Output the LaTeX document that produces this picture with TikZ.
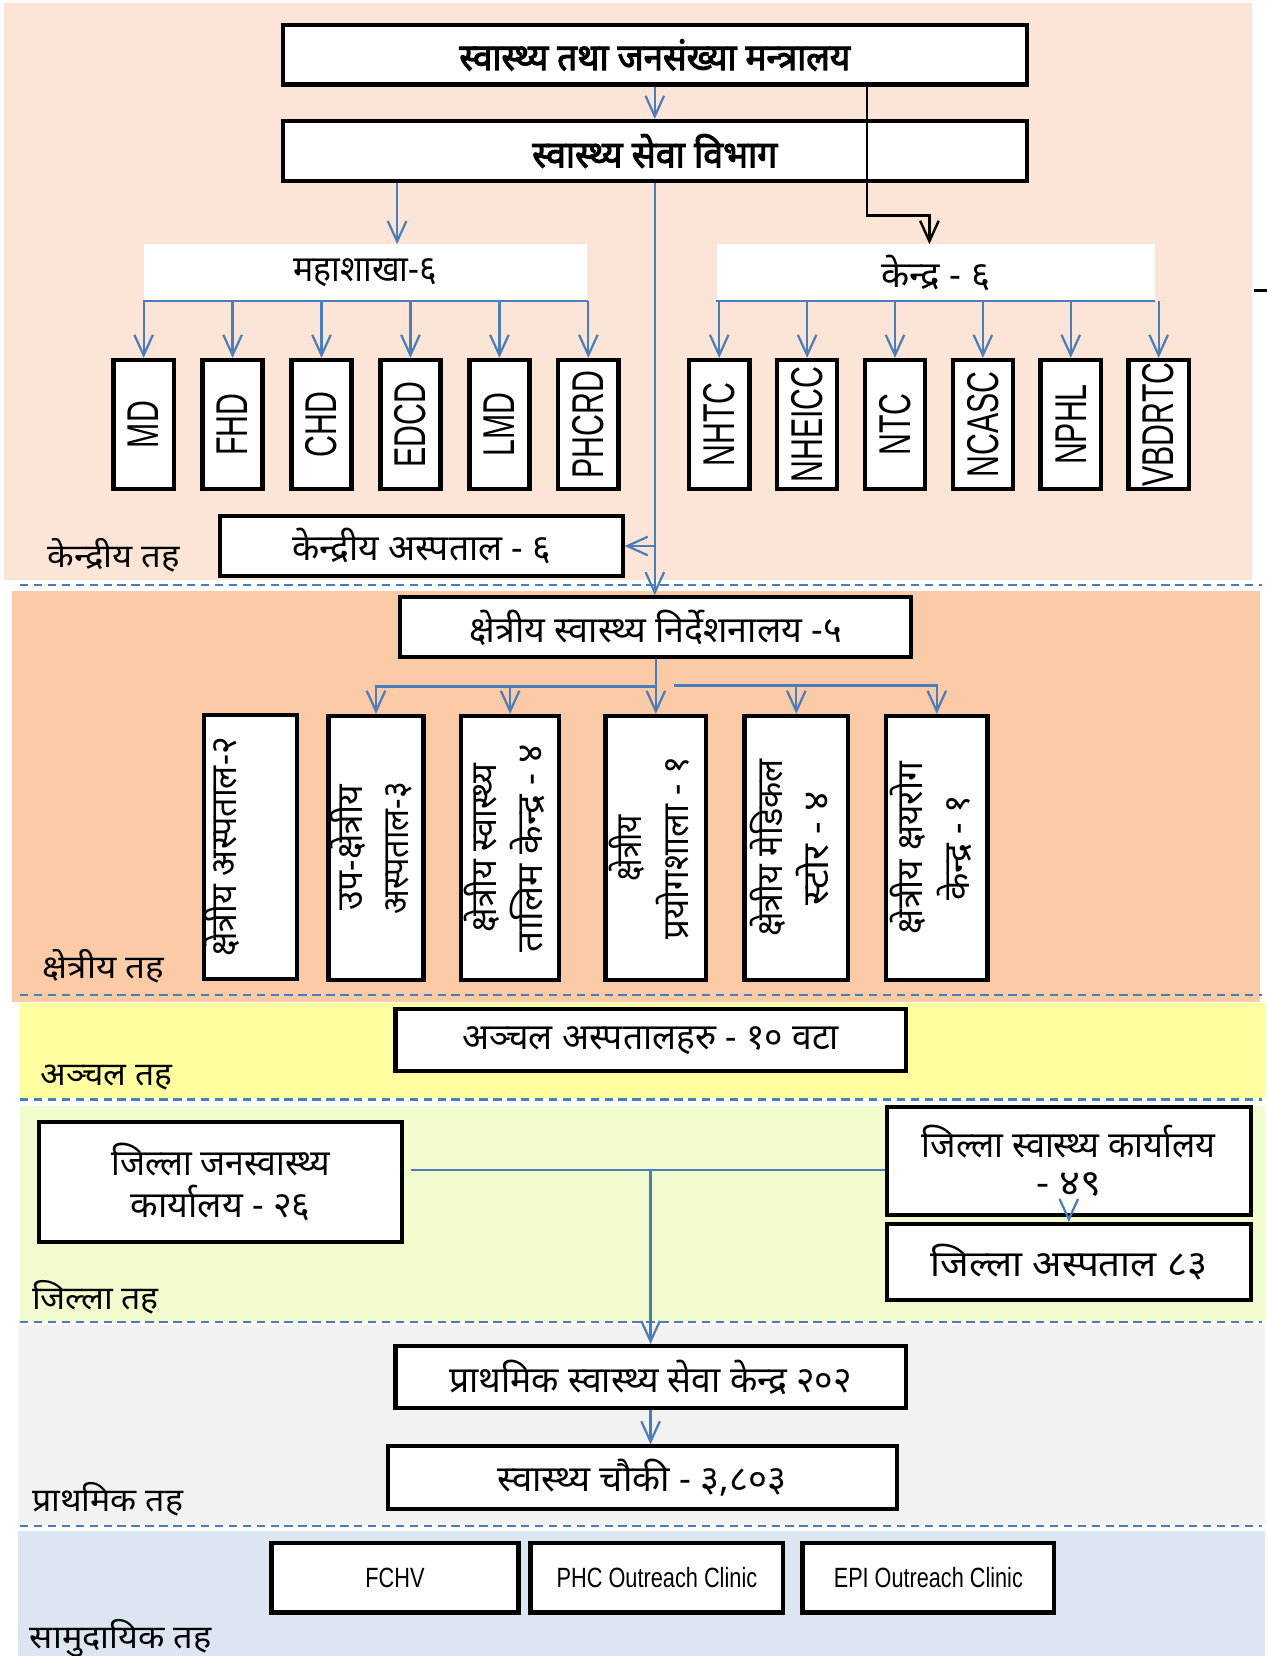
\documentclass[tikz,border=0pt]{standalone}
\usepackage{graphicx}
\usepackage{fontspec}
\setmainfont[Script=Devanagari]{Noto Sans}
\newfontfamily\headfont[Script=Devanagari, FakeBold=3]{Noto Sans}
\newfontfamily\arial{Liberation Sans}
\usetikzlibrary{arrows.meta,positioning}

\definecolor{tierA}{HTML}{FCE5D6}
\definecolor{tierB}{HTML}{FBCBA7}
\definecolor{tierC}{HTML}{FFFF9F}
\definecolor{tierD}{HTML}{F0FBCE}
\definecolor{tierE}{HTML}{F2F2F2}
\definecolor{tierF}{HTML}{DCE6F2}
\definecolor{linkblue}{HTML}{4A7EBB}

\newlength\pxu
\setlength\pxu{0.02cm}
% squeeze a text to a given width (in px), keeping its height
\newcommand\fitx[2]{\resizebox{#1\pxu}{\height}{#2}}
% upright text in a tall box
\newcommand\vtext[1]{\rotatebox{90}{\scalebox{0.68}[1]{#1}}}
\newcommand\vstack[2]{\rotatebox{90}{\begin{tabular}{@{}c@{}}#1\\#2\end{tabular}}}

\tikzset{
    box/.style={draw=black, line width=2.2pt, fill=white, inner sep=0pt,
        font=\fontsize{19.5}{23}\selectfont},
    head/.style={box, font=\headfont\fontsize{20}{23}\selectfont},
    tag/.style={fill=white, inner sep=0pt, font=\fontsize{19.5}{22}\selectfont},
    unit/.style={box, line width=2.4pt, minimum width=57\pxu, minimum height=122\pxu,
        font=\arial\fontsize{24}{24}\selectfont},
    post/.style={box, line width=2.4pt, minimum height=250\pxu,
        font=\fontsize{19.5}{25}\selectfont},
    clinic/.style={box, line width=2.4pt, minimum height=66\pxu,
        font=\arial\fontsize{15}{16}\selectfont},
    lvl/.style={anchor=west, inner sep=0pt, font=\fontsize{17.5}{20}\selectfont},
    link/.style={draw=linkblue, line width=1.2pt},
    arr/.style={link, -{Straight Barb[length=11pt,width=10pt]}},
    blk/.style={draw=black, line width=1.3pt, -{Straight Barb[length=11pt,width=10pt]}},
    tier/.style={draw=linkblue, line width=1.2pt, dash pattern=on 4.5pt off 3pt},
}

\begin{document}
\begin{tikzpicture}[x=0.02cm, y=-0.02cm]
    \useasboundingbox (0,0) rectangle (1200,1568);

    % tiers
    \fill[tierA] (4,3) rectangle (1185,549);
    \fill[tierB] (11,560) rectangle (1193,949);
    \fill[tierC] (19,950) rectangle (1198,1040);
    \fill[tierD] (19,1047) rectangle (1198,1251);
    \fill[tierE] (17,1255) rectangle (1198,1444);
    \fill[tierF] (17,1450) rectangle (1198,1568);
    \foreach \y in {554,942,1041,1252,1445}
        \draw[tier] (19,\y) -- (1195,\y);
    \draw[black, line width=2pt] (1187,275) -- (1200,275);

    \node[lvl] (Lcen) at (45,526) {\fitx{125}{केन्द्रीय तह}};
    \node[lvl] (Lreg) at (40,915) {\fitx{115}{क्षेत्रीय तह}};
    \node[lvl] (Lzon) at (38,1020) {\fitx{125}{अञ्चल तह}};
    \node[lvl] (Ldis) at (30,1228) {\fitx{120}{जिल्ला तह}};
    \node[lvl] (Lpri) at (30,1420) {\fitx{143}{प्राथमिक तह}};
    \node[lvl] (Lcom) at (28,1551) {\fitx{172}{सामुदायिक तह}};

    % central
    \node[head, minimum width=704\pxu, minimum height=56\pxu] (moh) at (620,52)
        {\fitx{370}{स्वास्थ्य तथा जनसंख्या मन्त्रालय}};
    \node[head, minimum width=704\pxu, minimum height=57\pxu] (dohs) at (620,143)
        {\fitx{232}{स्वास्थ्य सेवा विभाग}};
    \node[tag, minimum width=420\pxu, minimum height=53\pxu] (maha) at (346,258)
        {\fitx{136}{महाशाखा-६}};
    \node[tag, minimum width=415\pxu, minimum height=53\pxu] (kendra) at (886,258)
        {\fitx{103}{केन्द्र - ६}};

    \node[unit] (md) at (136,402) {\vtext{MD}};
    \node[unit] (fhd) [right=23\pxu of md] {\vtext{FHD}};
    \node[unit] (chd) [right=23\pxu of fhd] {\vtext{CHD}};
    \node[unit] (edcd) [right=23\pxu of chd] {\vtext{EDCD}};
    \node[unit] (lmd) [right=23\pxu of edcd] {\vtext{LMD}};
    \node[unit] (phcrd) [right=23\pxu of lmd] {\vtext{PHCRD}};

    \node[unit] (nhtc) at (681,402) {\vtext{NHTC}};
    \node[unit] (nheicc) [right=22\pxu of nhtc] {\vtext{NHEICC}};
    \node[unit] (ntc) [right=22\pxu of nheicc] {\vtext{NTC}};
    \node[unit] (ncasc) [right=22\pxu of ntc] {\vtext{NCASC}};
    \node[unit] (nphl) [right=22\pxu of ncasc] {\vtext{NPHL}};
    \node[unit] (vbdrtc) [right=22\pxu of nphl] {\vtext{VBDRTC}};

    \node[box, minimum width=381\pxu, minimum height=57\pxu] (ch) at (399,517)
        {\fitx{245}{केन्द्रीय अस्पताल - ६}};

    % regional
    \node[box, minimum width=484\pxu, minimum height=57\pxu] (rd) at (621,594)
        {\fitx{352}{क्षेत्रीय स्वास्थ्य निर्देशनालय -५}};
    \node[post, minimum width=88\pxu] (rh) at (237,802)
        {\vstack{\fitx{208}{क्षेत्रीय अस्पताल-२}}{\mbox{}}};
    \node[post, minimum width=90\pxu] (srh) at (356,803)
        {\vstack{\fitx{119}{उप-क्षेत्रीय}}{\fitx{125}{अस्पताल-३}}};
    \node[post, minimum width=93\pxu] (rtc) at (483,803)
        {\vstack{\fitx{159}{क्षेत्रीय स्वास्थ्य}}{\fitx{197}{तालिम केन्द्र - ४}}};
    \node[post, minimum width=95\pxu] (rlab) at (621,803)
        {\vstack{\fitx{63}{क्षेत्रीय}}{\fitx{173}{प्रयोगशाला - १}}};
    \node[post, minimum width=98\pxu] (rms) at (754,803)
        {\vstack{\fitx{168}{क्षेत्रीय मेडिकल}}{\fitx{108}{स्टोर - ४}}};
    \node[post, minimum width=96\pxu] (rtb) at (887,803)
        {\vstack{\fitx{163}{क्षेत्रीय क्षयरोग}}{\fitx{100}{केन्द्र - १}}};

    % zonal, district, primary, community
    \node[box, minimum width=483\pxu, minimum height=59\pxu] (zh) at (616,985)
        {\fitx{357}{अञ्चल अस्पतालहरु - १० वटा}};
    \node[box, minimum width=344\pxu, minimum height=114\pxu, align=center] (dpho) at (209,1119)
        {\fitx{207}{जिल्ला जनस्वास्थ्य}\\\fitx{170}{कार्यालय - २६}};
    \node[box, minimum width=345\pxu, minimum height=102\pxu, align=center] (dho) at (1012,1099)
        {\fitx{278}{जिल्ला स्वास्थ्य कार्यालय}\\[-3pt]\fitx{62}{- ४९}};
    \node[box, minimum width=345\pxu, minimum height=72\pxu] (dh) at (1012,1195)
        {\fitx{262}{जिल्ला अस्पताल ८३}};
    \node[box, minimum width=483\pxu, minimum height=59\pxu] (phcc) at (616,1304)
        {\fitx{381}{प्राथमिक स्वास्थ्य सेवा केन्द्र २०२}};
    \node[box, minimum width=482\pxu, minimum height=59\pxu] (hp) at (608,1399)
        {\fitx{273}{स्वास्थ्य चौकी - ३,८०३}};
    \node[clinic, minimum width=234\pxu] (fchv) at (374,1494) {\fitx{56}{FCHV}};
    \node[clinic, minimum width=239\pxu] (phco) at (622,1494) {\fitx{190}{PHC Outreach Clinic}};
    \node[clinic, minimum width=238\pxu] (epio) at (879,1494) {\fitx{179}{EPI Outreach Clinic}};

    % connectors
    \coordinate (mtop) at (376,0);
    \coordinate (mtap) at (821,0);
    \coordinate (kbend) at (880,204);
    \coordinate (lsplit) at (621,650);
    \coordinate (rsplit) at (638,649);
    \coordinate (dtap) at (389,1108);

    \draw[arr] (moh) -- (dohs);
    \draw[arr] (dohs.south -| mtop) -- (maha.north -| mtop);
    \draw[arr] (dohs.south) -- (dohs.south |- rd.north);
    \draw[arr] (ch.east -| dohs.south) -- (ch.east);

    \draw[link] (maha.south west) -- (maha.south east);
    \path
        (md.north |- maha.south) edge[arr] (md.north)
        (fhd.north |- maha.south) edge[arr] (fhd.north)
        (chd.north |- maha.south) edge[arr] (chd.north)
        (edcd.north |- maha.south) edge[arr] (edcd.north)
        (lmd.north |- maha.south) edge[arr] (lmd.north)
        (phcrd.north |- maha.south) edge[arr] (phcrd.north);

    \draw[link] (kendra.south west) -- (kendra.south east);
    \path
        (nhtc.north |- kendra.south) edge[arr] (nhtc.north)
        (nheicc.north |- kendra.south) edge[arr] (nheicc.north)
        (ntc.north |- kendra.south) edge[arr] (ntc.north)
        (ncasc.north |- kendra.south) edge[arr] (ncasc.north)
        (nphl.north |- kendra.south) edge[arr] (nphl.north)
        (vbdrtc.north |- kendra.south) edge[arr] (vbdrtc.north);

    \draw[arr] (rd.south) -- (rd.south |- rlab.north);
    \draw[arr] (lsplit) -| (srh.north);
    \draw[arr] (lsplit) -| (rtc.north);
    \draw[arr] (rsplit) -| (rms.north);
    \draw[arr] (rsplit) -| (rtb.north);

    \draw[link] (dtap) -- (dtap -| dho.west);
    \draw[arr] (dtap -| phcc.north) -- (phcc.north);
    \draw[arr] (dho.south) -- (dh.north);
    \draw[arr] (phcc.south) -- (phcc.south |- hp.north);

    \draw[blk] (moh.south -| mtap) |- (kbend) -- (kbend |- kendra.north);
\end{tikzpicture}
\end{document}
